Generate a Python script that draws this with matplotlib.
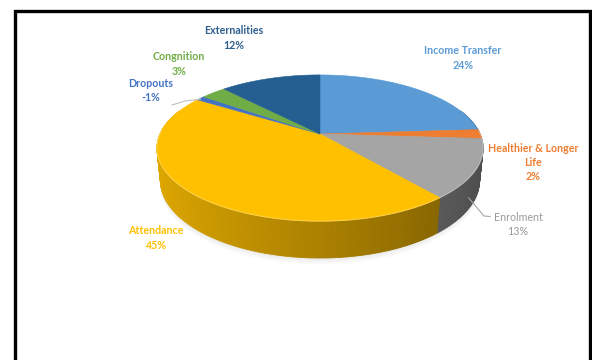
import numpy as np
import matplotlib
matplotlib.use("Agg")
import matplotlib.pyplot as plt
from matplotlib.colors import to_rgb

# ---------------- data ----------------
categories = ["Income Transfer", "Healthier & Longer\nLife", "Enrolment", "Attendance",
              "Dropouts", "Congnition", "Externalities"]
values = [24, 2, 13, 45, 1, 3, 12]
pct_labels = ["24%", "2%", "13%", "45%", "-1%", "3%", "12%"]

# ---------------- style ----------------
colors = ["#5B9BD5", "#ED7D31", "#A5A5A5", "#FFC000", "#4472C4", "#70AD47", "#255E91"]
label_colors = ["#5B9BD5", "#ED7D31", "#9A9A9A", "#FFC000", "#4472C4", "#70AD47", "#2F5F8F"]
label_weights = ["bold", "bold", "normal", "bold", "bold", "bold", "bold"]
label_pos = [(463, 58), (533, 162.5), (518, 224.5), (156, 238), (151, 90.5), (179, 64), (234, 38)]

# projection parameters (3D perspective pie)
CX, CY = 320, 134
F, DIST = 749.0, 4.68
S, C = 0.44, 0.898
H = 0.2256

FONT = ["Lato", "DejaVu Sans"]


def proj(phi_deg, yw=0.0):
    p = np.radians(phi_deg)
    X = np.sin(p)
    D = np.cos(p)
    yc = D * S + yw * C
    w = DIST + D * C - yw * S
    return CX + F * X / w, CY - F * yc / w


fig = plt.figure(figsize=(5.92, 3.6), dpi=100)
ax = fig.add_axes([0, 0, 1, 1])
ax.set_xlim(0, 592)
ax.set_ylim(360, 0)
ax.axis("off")

vals = np.array(values, dtype=float)
bounds = np.concatenate([[0], np.cumsum(vals)]) / vals.sum() * 360.0

# soft shadow under the pie
phis_all = np.linspace(0, 360, 361)
for k, (dy, a) in enumerate([(6, 0.10), (4, 0.12), (2, 0.15)]):
    bx, by = proj(phis_all, -H)
    ax.fill(bx, np.array(by) + dy, color="#c8c8c8", alpha=a, lw=0, zorder=1)

# side strips
segs = []
for i in range(len(vals)):
    p0, p1 = bounds[i], bounds[i + 1]
    n = max(2, int(np.ceil((p1 - p0) / 1.0)))
    ph = np.linspace(p0, p1, n + 1)
    for a, b in zip(ph[:-1], ph[1:]):
        mid = 0.5 * (a + b)
        segs.append((np.cos(np.radians(mid)), i, a, b, mid))
segs.sort(key=lambda t: -t[0])
for depth, i, a, b, mid in segs:
    if depth > 0.35:
        continue
    fac = 0.67 - 0.21 * np.sin(np.radians(mid))
    col = np.clip(np.array(to_rgb(colors[i])) * fac, 0, 1)
    tx0, ty0 = proj(a)
    tx1, ty1 = proj(b)
    bx1, by1 = proj(b, -H)
    bx0, by0 = proj(a, -H)
    ax.fill([tx0, tx1, bx1, bx0], [ty0, ty1, by1, by0], color=col,
            lw=0.6, ec=col, zorder=2)

# top faces
for i in range(len(vals)):
    ph = np.linspace(bounds[i], bounds[i + 1], max(3, int((bounds[i + 1] - bounds[i]) * 2)))
    ex, ey = proj(ph)
    xs = np.concatenate([[CX], ex])
    ys = np.concatenate([[CY], ey])
    ax.fill(xs, ys, color=colors[i], lw=0.4, ec=colors[i], zorder=3)
    # rim highlight on the front edge
    front = np.cos(np.radians(ph)) < 0.05
    if front.sum() > 1:
        hl = np.array(to_rgb(colors[i])) * 0.6 + 0.4
        ax.plot(np.array(ex)[front], np.array(ey)[front], color=hl, lw=0.8,
                alpha=0.7, zorder=4, solid_capstyle="butt")

# leader lines
mid_drop = 0.5 * (bounds[4] + bounds[5])
dx, dy_ = proj(mid_drop)
ax.plot([172, 185, dx], [105, 101, dy_ + 1], color="#BFBFBF", lw=0.8, zorder=5)
mid_enr = 0.5 * (bounds[2] + bounds[3])
ex_, ey_ = proj(mid_enr, -H)
ax.plot([ex_ - 4, 484, 490], [ey_ - 5, 216, 216.5], color="#A6A6A6", lw=0.8, zorder=5)

# labels
for i in range(len(vals)):
    x, y = label_pos[i]
    ax.text(x, y, categories[i] + "\n" + pct_labels[i], ha="center", va="center",
            color=label_colors[i], fontsize=7.7, fontweight=label_weights[i],
            family=FONT, linespacing=1.38, zorder=6)

# frame border
ax.plot([15, 15, 589.5, 589.5], [375, 11, 11, 375], color="black", lw=2.4,
        solid_joinstyle="miter", zorder=7, clip_on=False)

fig.savefig("out.png", dpi=100, facecolor="white")
